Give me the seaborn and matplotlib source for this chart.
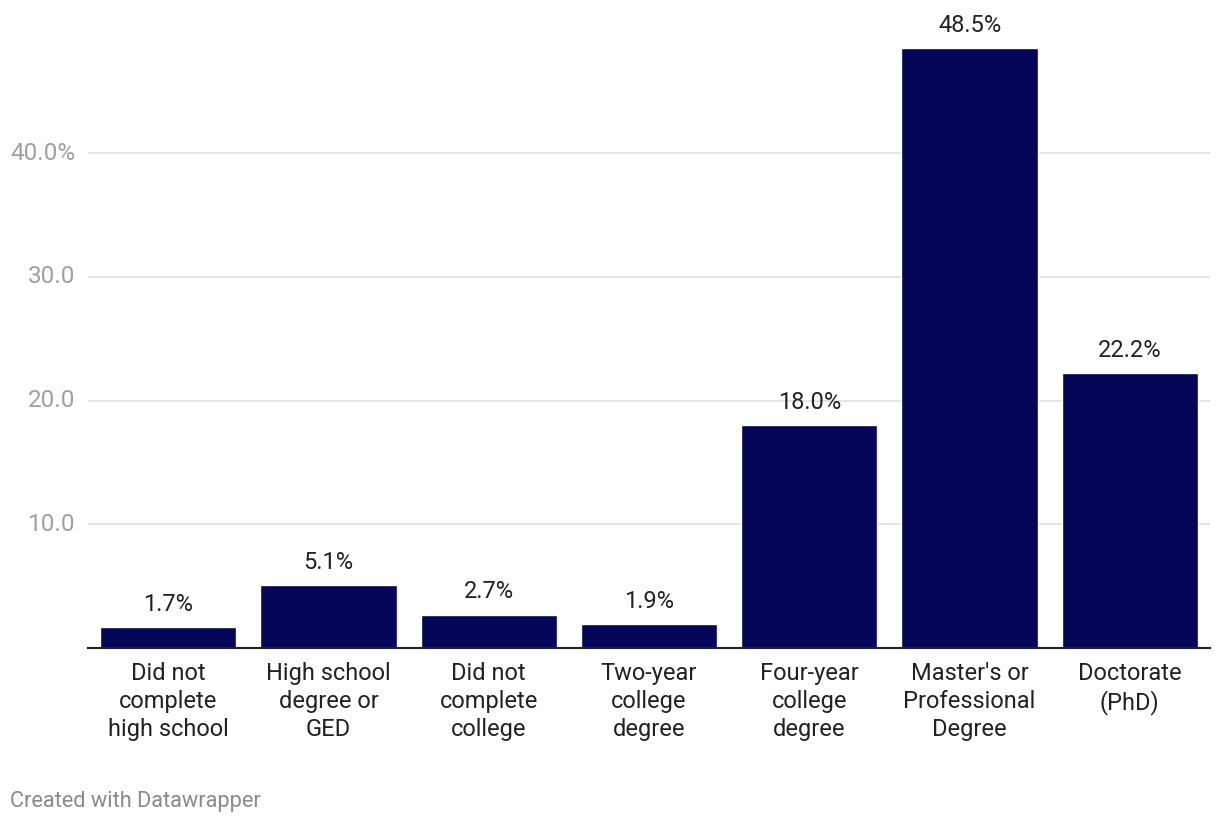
import matplotlib
matplotlib.use("Agg")
import matplotlib.pyplot as plt
import seaborn as sns
import pandas as pd

# dados do gráfico
categorias = [
    "Did not\ncomplete\nhigh school",
    "High school\ndegree or\nGED",
    "Did not\ncomplete\ncollege",
    "Two-year\ncollege\ndegree",
    "Four-year\ncollege\ndegree",
    "Master's or\nProfessional\nDegree",
    "Doctorate\n(PhD)",
]
valores = [1.7, 5.1, 2.7, 1.9, 18.0, 48.5, 22.2]
yticks = [10, 20, 30, 40]
ytick_labels = ["10.0", "20.0", "30.0", "40.0%"]

COR_BARRA = "#05055a"

sns.set_style("white")
plt.rcParams["font.family"] = ["Roboto", "DejaVu Sans"]

df = pd.DataFrame({"categoria": categorias, "valor": valores})

fig = plt.figure(figsize=(12.2, 8.24), dpi=100)
ax = fig.add_axes([88 / 1220, 176 / 824, 1122 / 1220, (648 - 29.5) / 824])

sns.barplot(data=df, x="categoria", y="valor", color=COR_BARRA, saturation=1,
            width=0.85, ax=ax, zorder=3)

ax.set_xlim(-0.5, len(categorias) - 0.5)
ax.set_ylim(0, 50)
ax.set_yticks(yticks)
ax.set_yticklabels(ytick_labels)
ax.grid(axis="y", color="#e2e2e2", linewidth=1.3, zorder=0)
ax.set_xlabel("")
ax.set_ylabel("")

for s in ["top", "right", "left"]:
    ax.spines[s].set_visible(False)
ax.spines["bottom"].set_color("#222222")
ax.spines["bottom"].set_linewidth(1.5)
ax.spines["bottom"].set_zorder(4)

ax.tick_params(axis="y", length=0, pad=9, labelsize=17.5, labelcolor="#a0a0a0")
ax.tick_params(axis="x", length=0, pad=10, labelsize=17, labelcolor="#222222")
for lbl in ax.get_yticklabels():
    lbl.set_verticalalignment("center")
    lbl.set_horizontalalignment("right")
for lbl in ax.get_xticklabels():
    lbl.set_linespacing(1.27)

# rótulos de valor
for i, v in enumerate(valores):
    ax.annotate(f"{v:.1f}%", (i, v), xytext=(0, 8), textcoords="offset points",
                ha="center", va="bottom", fontsize=17, color="#222222")

fig.text(10 / 1220, 1 - 801 / 824, "Created with Datawrapper", fontsize=15.7,
         color="#8a8a8a", ha="left", va="center")

fig.savefig("out.png", dpi=100)
plt.close(fig)
